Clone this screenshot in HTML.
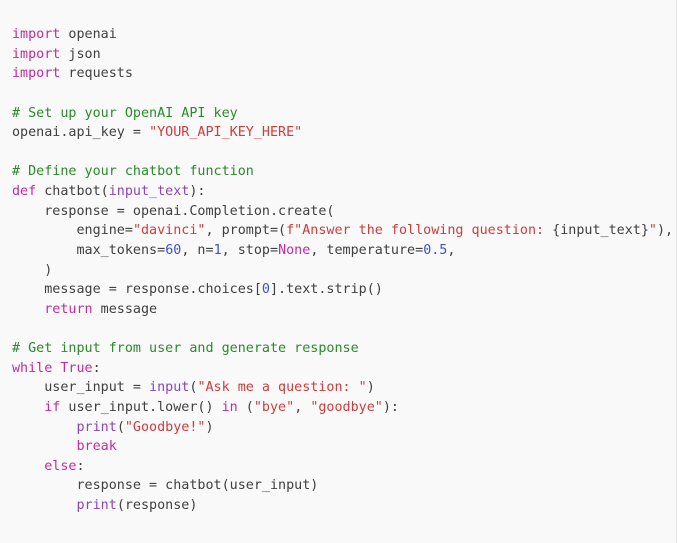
<!DOCTYPE html>
<html><head><style>
html,body{margin:0;padding:0;}
body{width:677px;height:543px;background:#f9f9f9;overflow:hidden;position:relative;border-right:1px solid #e8e8e8;box-sizing:border-box;}
pre{position:absolute;left:12px;top:25px;margin:0;font-family:"DejaVu Sans Mono",monospace;font-size:13.4px;line-height:19.625px;color:#404040;white-space:pre;}
.k{color:#c32aa3}.s{color:#d03b3b}.c{color:#2b8a2b}.n{color:#3e4fd6}.f{color:#8a47b5}
</style></head><body>
<pre><span class="k">import</span> openai
<span class="k">import</span> json
<span class="k">import</span> requests

<span class="c"># Set up your OpenAI API key</span>
openai.api_key = <span class="s">"YOUR_API_KEY_HERE"</span>

<span class="c"># Define your chatbot function</span>
<span class="k">def</span> chatbot(<span class="f">input_text</span>):
    response = openai.Completion.create(
        engine=<span class="s">"davinci"</span>, prompt=(<span class="s">f"Answer the following question: </span>{input_text}<span class="s">"</span>),
        max_tokens=<span class="n">60</span>, n=<span class="n">1</span>, stop=<span class="k">None</span>, temperature=<span class="n">0.5</span>,
    )
    message = response.choices[<span class="n">0</span>].text.strip()
    <span class="k">return</span> message

<span class="c"># Get input from user and generate response</span>
<span class="k">while</span> <span class="k">True</span>:
    user_input = <span class="f">input</span>(<span class="s">"Ask me a question: "</span>)
    <span class="k">if</span> user_input.lower() <span class="k">in</span> (<span class="s">"bye"</span>, <span class="s">"goodbye"</span>):
        <span class="f">print</span>(<span class="s">"Goodbye!"</span>)
        <span class="k">break</span>
    <span class="k">else</span>:
        response = chatbot(user_input)
        <span class="f">print</span>(response)</pre>
</body></html>
